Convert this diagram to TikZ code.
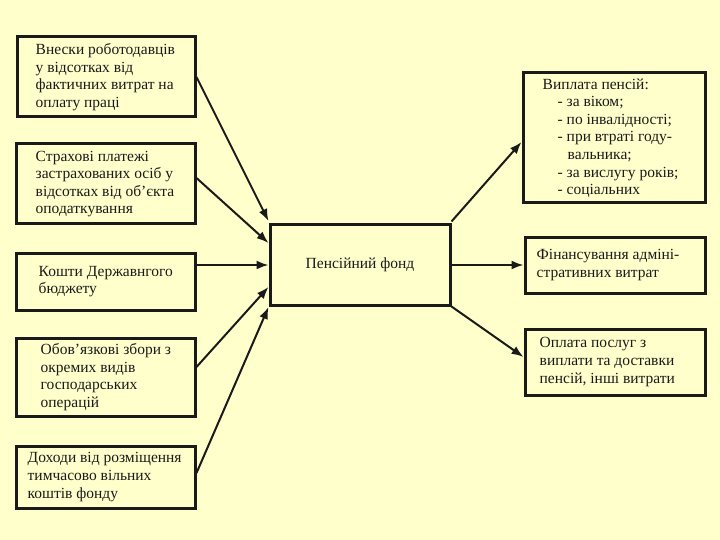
\documentclass[tikz,border=0pt]{standalone}
\usepackage{fontspec}
\setmainfont{Liberation Serif}
\usetikzlibrary{arrows.meta,calc}
\definecolor{bg}{HTML}{FFFFCC}
\definecolor{ink}{HTML}{1A1A1A}
\tikzset{
  box/.style={draw=ink, line width=3pt, fill=bg, inner sep=0pt},
  txt/.style={anchor=west, align=left, inner sep=0pt,
    font=\fontsize{15.5pt}{17.6pt}\selectfont, text=ink},
  conn/.style={draw=ink, line width=2pt, -{Latex[length=12pt,width=9pt]}}
}
\begin{document}
\begin{tikzpicture}[x=1pt,y=-1pt]
\fill[bg] (0,0) rectangle (720,540);
\useasboundingbox (0,0) rectangle (720,540);
% left boxes
\node[box, minimum width=178pt, minimum height=80pt] (b1) at (106,77) {};
\node[txt] (b1t) at ($(b1.west)+(20,0)$) {Внески роботодавців\\у відсотках від\\фактичних витрат на\\оплату праці};
\node[box, minimum width=179pt, minimum height=80pt] (b2) at (105.5,184) {};
\node[txt] (b2t) at ($(b2.west)+(21,0)$) {Страхові платежі\\застрахованих осіб у\\відсотках від об’єкта\\оподаткування};
\node[box, minimum width=179pt, minimum height=57pt] (b3) at (105.5,281.5) {};
\node[txt] (b3t) at ($(b3.west)+(24,0)$) {Кошти Державнгого\\бюджету};
\node[box, minimum width=179pt, minimum height=78pt] (b4) at (105.5,377) {};
\node[txt] (b4t) at ($(b4.west)+(26,0)$) {Обов’язкові збори з\\окремих видів\\господарських\\операцій};
\node[box, minimum width=179pt, minimum height=62pt] (b5) at (105.5,477) {};
\node[txt] (b5t) at ($(b5.west)+(13,0)$) {Доходи від розміщення\\тимчасово вільних\\коштів фонду};
% central
\node[box, minimum width=180pt, minimum height=80pt] (c) at (360,265) {};
\node[txt, anchor=center] (ct) at (c.center) {Пенсійний фонд};
% right boxes
\node[box, minimum width=182pt, minimum height=130pt] (r1) at (614,138) {};
\node[txt] (r1t) at ($(r1.west)+(21,0)$)
  {Виплата пенсій:\\
   \hspace*{15pt}- за віком;\\
   \hspace*{15pt}- по інвалідності;\\
   \hspace*{15pt}- при втраті году-\\
   \hspace*{25pt}вальника;\\
   \hspace*{15pt}- за вислугу років;\\
   \hspace*{15pt}- соціальних};
\node[box, minimum width=180pt, minimum height=56pt] (r2) at (615,265) {};
\node[txt] (r2t) at ($(r2.west)+(13,0)$) {Фінансування адміні-\\стративних витрат};
\node[box, minimum width=180pt, minimum height=66pt] (r3) at (615,362) {};
\node[txt] (r3t) at ($(r3.west)+(16,0)$) {Оплата послуг з\\виплати та доставки\\пенсій, інші витрати};
% incoming connectors
\draw[conn] (b1.east) -- ($(c.west)+(0,-44)$);
\draw[conn] ($(b2.east)+(0,-6)$) -- ($(c.west)+(0,-22)$);
\draw[conn] ($(b3.east)+(0,-16.5)$) -- (c.west);
\draw[conn] ($(b4.east)+(0,-10)$) -- ($(c.west)+(0,22)$);
\draw[conn] ($(b5.east)+(0,-4)$) -- ($(c.west)+(0,42)$);
% outgoing connectors
\draw[conn] ($(c.north east)+(0,-2)$) -- ($(r1.west)+(0,4)$);
\draw[conn] (c.east) -- (r2.west);
\draw[conn] (c.south east) -- ($(r3.west)+(0,-5)$);
\end{tikzpicture}
\end{document}
